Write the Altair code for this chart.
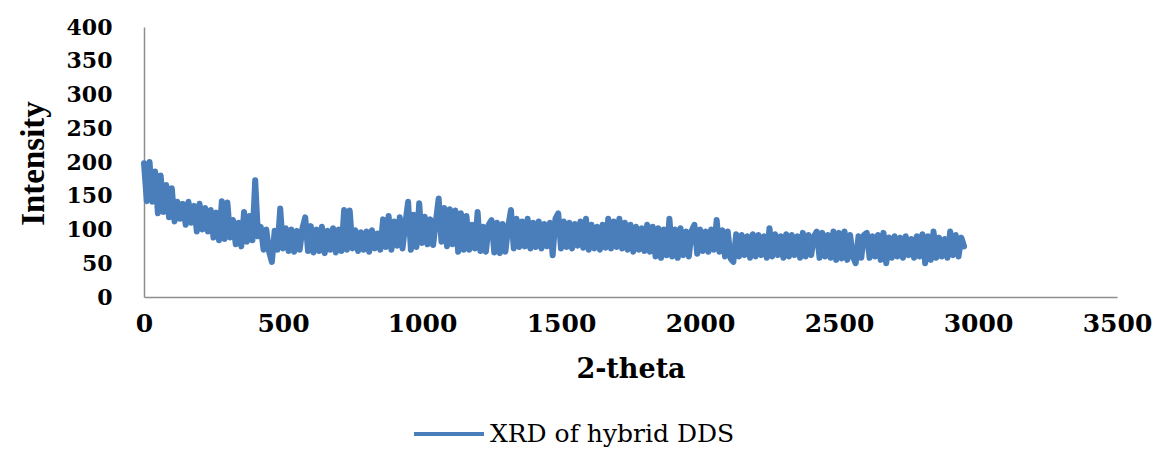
import altair as alt
import pandas as pd

intensity = [
    198, 142, 200, 141, 186, 124, 180, 126, 166, 118,   # 0-90
    161, 112, 141, 116, 138, 107, 141, 110, 135, 97,    # 100-190
    138, 100, 132, 97, 129, 88, 125, 84, 142, 86,       # 200-290
    140, 88, 114, 78, 110, 75, 126, 82, 120, 84,        # 300-390
    173, 90, 104, 70, 100, 67, 52, 98, 70, 131,         # 400-490
    72, 102, 68, 100, 67, 98, 70, 102, 118, 68,         # 500-590
    105, 66, 100, 68, 104, 65, 98, 70, 102, 66,         # 600-690
    100, 68, 129, 70, 128, 72, 99, 68, 96, 70,          # 700-790
    97, 67, 99, 72, 94, 70, 115, 74, 120, 70,           # 800-890
    112, 76, 118, 72, 108, 141, 70, 122, 74, 139,       # 900-990
    80, 119, 78, 115, 77, 112, 146, 82, 132, 75,        # 1000-1090
    130, 78, 128, 67, 124, 70, 120, 70, 107, 72,        # 1100-1190
    126, 68, 104, 67, 107, 114, 66, 110, 65, 108,       # 1200-1290
    67, 104, 129, 72, 116, 74, 112, 75, 116, 72,        # 1300-1390
    110, 74, 112, 72, 108, 75, 110, 62, 116, 124,       # 1400-1490
    72, 112, 74, 110, 72, 108, 76, 112, 73, 116,        # 1500-1590
    70, 107, 72, 104, 70, 107, 73, 116, 72, 112,        # 1600-1690
    74, 116, 72, 110, 70, 107, 67, 104, 70, 102,        # 1700-1790
    68, 107, 67, 104, 60, 102, 58, 100, 62, 116,        # 1800-1890
    60, 100, 58, 102, 62, 97, 60, 98, 107, 64,          # 1900-1990
    100, 68, 97, 67, 100, 70, 114, 67, 99, 60,          # 2000-2090
    97, 57, 52, 93, 60, 92, 62, 90, 58, 93,             # 2100-2190
    60, 92, 62, 90, 58, 102, 60, 93, 62, 90,            # 2200-2290
    58, 93, 60, 92, 62, 90, 58, 95, 60, 92,             # 2300-2390
    62, 90, 97, 58, 95, 60, 92, 58, 97, 55,             # 2400-2490
    95, 57, 97, 55, 92, 60, 50, 90, 58, 92,             # 2500-2590
    95, 58, 90, 60, 92, 55, 95, 50, 88, 58,             # 2600-2690
    90, 60, 88, 58, 90, 62, 86, 58, 90, 60,             # 2700-2790
    93, 50, 90, 55, 97, 58, 88, 60, 86, 58,             # 2800-2890
    97, 62, 92, 60, 88, 75,                             # 2900-2950
]
two_theta = [i * 10 for i in range(len(intensity))]
series_name = "XRD of hybrid DDS"

x_ticks = [0, 500, 1000, 1500, 2000, 2500, 3000, 3500]
y_ticks = [0, 50, 100, 150, 200, 250, 300, 350, 400]

df = pd.DataFrame({"two_theta": two_theta, "intensity": intensity,
                   "series": [series_name] * len(intensity)})

chart = alt.Chart(df).mark_line(
    strokeWidth=6, strokeJoin="round", strokeCap="round"
).encode(
    x=alt.X("two_theta:Q",
            scale=alt.Scale(domain=[0, 3500], nice=False, zero=True),
            axis=alt.Axis(values=x_ticks, format="d", title="2-theta", grid=False, ticks=False,
                          domainColor="#8E8E8E", domainWidth=1.5,
                          labelFont="DejaVu Serif", labelFontWeight="bold",
                          labelFontSize=25, labelColor="#000000", labelPadding=14,
                          labelFlush=False, labelOverlap=False,
                          titleFont="DejaVu Serif", titleFontWeight="bold",
                          titleFontSize=27, titleColor="#000000",
                          titleBaseline="alphabetic", titleY=80)),
    y=alt.Y("intensity:Q",
            scale=alt.Scale(domain=[0, 400], nice=False),
            axis=alt.Axis(values=y_ticks, format="d", title="Intensity", grid=False, ticks=False,
                          domainColor="#8E8E8E", domainWidth=1.5,
                          labelFont="DejaVu Serif", labelFontWeight="bold",
                          labelFontSize=22, labelColor="#000000", labelPadding=32,
                          labelFlush=False, labelOverlap=False,
                          titleFont="Liberation Serif", titleFontWeight="bold",
                          titleFontSize=33, titleColor="#000000",
                          titleBaseline="alphabetic", titleAngle=270,
                          titleAlign="center", titleX=-101, titleY=136)),
    color=alt.Color("series:N", scale=alt.Scale(range=["#4A7EBB"]),
                    legend=alt.Legend(title=None, orient="none", legendX=268, legendY=370,
                                      symbolType="stroke", symbolSize=4900,
                                      symbolStrokeWidth=4,
                                      labelFont="DejaVu Serif", labelFontSize=25,
                                      labelColor="#000000", labelOffset=4,
                                      labelLimit=400)),
).properties(
    width=973, height=270,
    padding={"left": 144, "top": 27, "right": 38, "bottom": 152},
    autosize=alt.AutoSizeParams(type="none"),
).configure(background="white").configure_view(strokeWidth=0, stroke="transparent")

chart.save("out.html", embed_options={"renderer": "svg", "actions": False})
